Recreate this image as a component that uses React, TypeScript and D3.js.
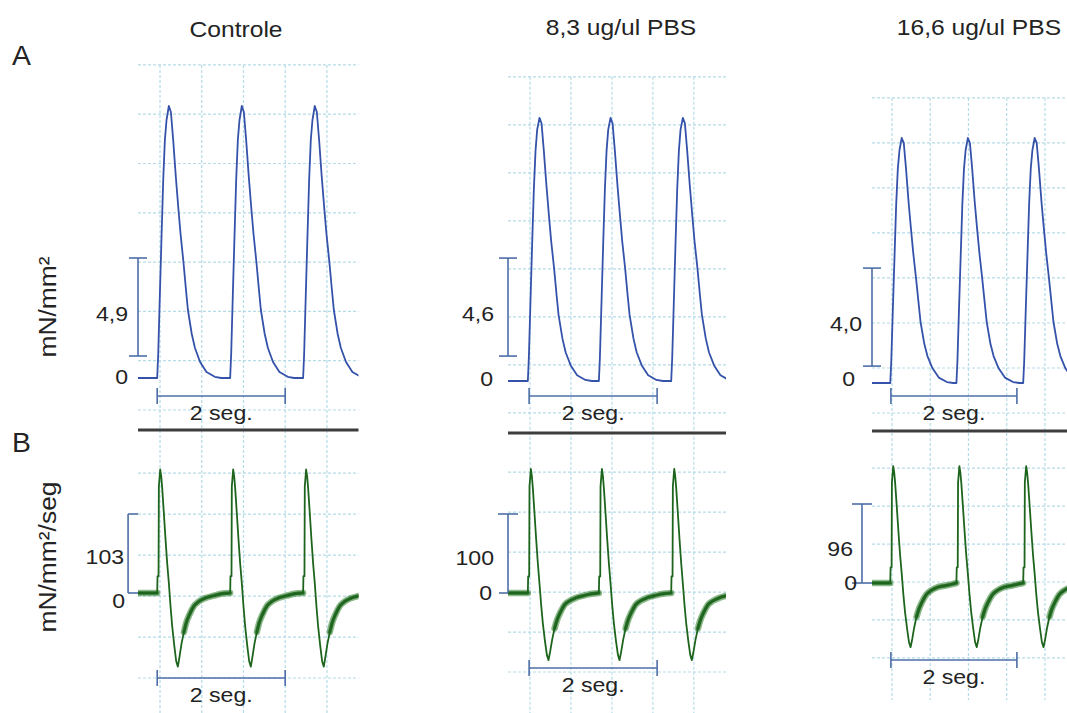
import React from "react";
import * as d3 from "d3";

// Conditions and scale-bar values
const conditions = ["Controle", "8,3 ug/ul PBS", "16,6 ug/ul PBS"];
const forceBarValues = [4.9, 4.6, 4.0]; // mN/mm²
const dfdtBarValues = [103, 100, 96]; // mN/mm²/seg
const timeBarSeconds = 2;
const timeBarLabel = "2 seg.";

// Beat onsets (s) for each condition
const beatOnsets = [
  [0.3, 1.44, 2.58],
  [0.31, 1.42, 2.55],
  [0.29, 1.34, 2.4],
];

// Isometric force during one beat (time after onset, s; force, mN/mm²)
const forceBeatTime = [0, 0.016, 0.042, 0.068, 0.094, 0.12, 0.146, 0.182, 0.214, 0.25, 0.29, 0.33, 0.365, 0.41, 0.45, 0.48, 0.54, 0.59, 0.67, 0.77, 0.9, 1.0];
const forceControle = [0, 1.2, 4.2, 7.1, 9.9, 11.9, 12.9, 13.6, 13.3, 11.9, 10.1, 8.5, 7.2, 5.8, 4.4, 3.4, 2.2, 1.5, 0.8, 0.3, 0.06, 0];
const force83 = [0, 1.1, 3.8, 6.5, 9.0, 10.8, 11.8, 12.35, 12.1, 10.8, 9.2, 7.75, 6.55, 5.3, 4.0, 3.1, 2.0, 1.35, 0.73, 0.27, 0.05, 0];
const force166 = [0, 0.9, 3.1, 5.2, 7.3, 8.75, 9.5, 10.0, 9.8, 8.75, 7.4, 6.25, 5.3, 4.25, 3.25, 2.5, 1.6, 1.1, 0.6, 0.22, 0.04, 0];

// Rate of force development during one beat (time after onset, s; dF/dt, mN/mm²/seg)
const dfdtBeatTime = [0, 0.005, 0.021, 0.026, 0.047, 0.063, 0.078, 0.104, 0.13, 0.156, 0.182, 0.208, 0.234, 0.266, 0.297, 0.323, 0.349, 0.38, 0.417, 0.453, 0.505, 0.573, 0.651, 0.755, 0.885, 1.0];
const dfdtControle = [0, 22, 22, 139, 161, 152, 137, 104, 70, 39, 13, -17, -43, -68, -89, -96, -83, -66, -51, -39, -28, -17, -11, -6.5, -3.5, -1];
const dfdt83 = [0, 21, 21, 135, 157, 148, 133, 101, 68, 38, 12, -15, -38, -60, -78, -85, -74, -59, -45, -35, -25, -15, -10, -6, -3, -1];
const dfdt166 = [0, 19, 19, 122, 142, 134, 121, 92, 62, 34, 11, -14, -35, -55, -72, -78, -68, -54, -41, -32, -23, -14, -9, -5, -3, -1];

const forceSeries = [forceControle, force83, force166];
const dfdtSeries = [dfdtControle, dfdt83, dfdt166];

// Page layout for each recording column
const layouts = [
  {
    x0: 138, pxPerSec: 64, tEnd: 3.44, clipRight: 358.5,
    forceZeroY: 378, dfdtZeroY: 593, forceBarBase: 1.1, timeBarStart: 0.3,
    topTimeBarY: 396, bottomTimeBarY: 678, dividerY: 430,
    dfdtBarT: -0.155, dfdtTopCap: [0, 10], dfdtBottomCap: [0, 10],
    forceLabelDx: -10, zeroLabelDx: -10, zeroLabelDy: 6,
    dfdtLabelDx: -4, dfdtLabelDy: 10, dfdtZeroDx: -3, dfdtZeroDy: 15,
    gridT: [0.344, 0.652, 5], gridF: [-1.6, 2.465, 8], gridD: [-110.8, 53.4, 6], gridBottom: 713,
    titleX: 236, titleY: 37,
  },
  {
    x0: 508, pxPerSec: 64, tEnd: 3.39, clipRight: 726,
    forceZeroY: 381, dfdtZeroY: 593, forceBarBase: 1.17, timeBarStart: 0.33,
    topTimeBarY: 396, bottomTimeBarY: 668, dividerY: 433,
    dfdtBarT: 0.0, dfdtTopCap: [-10, 10], dfdtBottomCap: [-9, 0],
    forceLabelDx: -14, zeroLabelDx: -15, zeroLabelDy: 5,
    dfdtLabelDx: -14, dfdtLabelDy: 11, dfdtZeroDx: -16, dfdtZeroDy: 7,
    gridT: [0.344, 0.64, 5], gridF: [-1.5, 2.254, 8], gridD: [-100, 50.6, 6], gridBottom: 713,
    titleX: 621, titleY: 35,
  },
  {
    x0: 872, pxPerSec: 63, tEnd: 3.1, clipRight: 1067,
    forceZeroY: 383, dfdtZeroY: 583, forceBarBase: 0.69, timeBarStart: 0.3,
    topTimeBarY: 396, bottomTimeBarY: 660, dividerY: 431,
    dfdtBarT: -0.159, dfdtTopCap: [-10, 10], dfdtBottomCap: [-10, 10],
    forceLabelDx: -10, zeroLabelDx: -17, zeroLabelDy: 3,
    dfdtLabelDx: -9, dfdtLabelDy: 12, dfdtZeroDx: -5, dfdtZeroDy: 7,
    gridT: [0.317, 0.607, 5], gridF: [-1.224, 1.837, 8], gridD: [-91, 46.1, 6], gridBottom: 700,
    titleX: 979, titleY: 35,
  },
];

const FORCE_BAR_PX = 98;
const DFDT_BAR_PX = 79;
const REST_FROM = 0.41;

const FONT = "'Liberation Sans', Arial, sans-serif";
const TEXT_COLOR = "#232323";
const BAR_COLOR = "#4d6ea8";
const GRID_COLOR = "#b5dce8";
const FORCE_COLOR = "#3552aa";
const DFDT_COLOR = "#1d641d";
const NOISE_COLOR = "#2f7f2c";

type Pt = { t: number; v: number; rest: boolean };

function buildTrace(onsets: number[], beatTime: number[], beatValues: number[]): Pt[] {
  const pts: Pt[] = [{ t: 0, v: 0, rest: true }];
  onsets.forEach((on) => {
    beatTime.forEach((bt, i) => {
      pts.push({ t: on + bt, v: beatValues[i], rest: bt === 0 || bt >= REST_FROM });
    });
  });
  return pts;
}

function Label({ x, y, children, anchor = "start", size = 22, sx = 1.1, fill = TEXT_COLOR }: any) {
  return (
    <g transform={`translate(${x},${y}) scale(${sx},1)`}>
      <text x={0} y={0} textAnchor={anchor} fontSize={size} fontFamily={FONT} fill={fill}>
        {children}
      </text>
    </g>
  );
}

function Column({ idx }: { idx: number }) {
  const L = layouts[idx];
  const x = d3.scaleLinear().domain([0, L.tEnd]).range([L.x0, L.x0 + L.pxPerSec * L.tEnd]);
  const fy = d3.scaleLinear().domain([0, forceBarValues[idx]]).range([L.forceZeroY, L.forceZeroY - FORCE_BAR_PX]);
  const dy = d3.scaleLinear().domain([0, dfdtBarValues[idx]]).range([L.dfdtZeroY, L.dfdtZeroY - DFDT_BAR_PX]);

  const forcePts = buildTrace(beatOnsets[idx], forceBeatTime, forceSeries[idx]);
  const dfdtPts = buildTrace(beatOnsets[idx], dfdtBeatTime, dfdtSeries[idx]);

  const forceLine = d3.line<Pt>().x((d) => x(d.t)).y((d) => fy(d.v)).curve(d3.curveLinear);
  const dfdtLine = d3.line<Pt>().x((d) => x(d.t)).y((d) => dy(d.v)).curve(d3.curveLinear);
  const noiseLine = d3.line<Pt>().defined((d) => d.rest).x((d) => x(d.t)).y((d) => dy(d.v)).curve(d3.curveMonotoneX);

  const left = L.x0;
  const right = L.clipRight;

  const gridTs = d3.range(L.gridT[2]).map((k) => L.gridT[0] + k * L.gridT[1]);
  const gridFs = d3.range(L.gridF[2]).map((k) => L.gridF[0] + k * L.gridF[1]);
  const gridDs = d3.range(L.gridD[2]).map((k) => L.gridD[0] + k * L.gridD[1]);
  const gridTopY = fy(d3.max(gridFs) as number);

  const clipId = `clip-${idx}`;
  const fBarX = x(0);
  const fBarY0 = fy(L.forceBarBase);
  const fBarY1 = fy(L.forceBarBase + forceBarValues[idx]);
  const dBarX = x(L.dfdtBarT);
  const dBarY0 = dy(0);
  const dBarY1 = dy(dfdtBarValues[idx]);
  const tb0 = x(L.timeBarStart);
  const tb1 = x(L.timeBarStart + timeBarSeconds);

  const timeBar = (yy: number) => (
    <g stroke={BAR_COLOR} strokeWidth={1.6}>
      <line x1={tb0} x2={tb1} y1={yy} y2={yy} />
      <line x1={tb0} x2={tb0} y1={yy - 8} y2={yy + 8} />
      <line x1={tb1} x2={tb1} y1={yy - 8} y2={yy + 8} />
    </g>
  );

  return (
    <g>
      <defs>
        <clipPath id={clipId}>
          <rect x={left} y={0} width={right - left} height={713} />
        </clipPath>
      </defs>

      {/* chart-paper grid */}
      <g stroke={GRID_COLOR} strokeWidth={1.2} strokeDasharray="3 2" fill="none">
        {gridTs.map((t, i) => (
          <line key={`v${i}`} x1={x(t)} x2={x(t)} y1={gridTopY} y2={L.gridBottom} />
        ))}
        {gridFs.map((v, i) => (
          <line key={`f${i}`} x1={left} x2={right} y1={fy(v)} y2={fy(v)} />
        ))}
        {gridDs.map((v, i) => (
          <line key={`d${i}`} x1={left} x2={right} y1={dy(v)} y2={dy(v)} />
        ))}
      </g>

      {/* title */}
      <Label x={L.titleX} y={L.titleY} anchor="middle" size={22} sx={1.12}>{conditions[idx]}</Label>

      {/* force trace */}
      <path d={forceLine(forcePts) || ""} fill="none" stroke={FORCE_COLOR} strokeWidth={1.8} strokeLinejoin="round" clipPath={`url(#${clipId})`} />

      {/* force scale bar */}
      <g stroke={BAR_COLOR} strokeWidth={1.6}>
        <line x1={fBarX} x2={fBarX} y1={fBarY0} y2={fBarY1} />
        <line x1={fBarX - 9} x2={fBarX + 9} y1={fBarY0} y2={fBarY0} />
        <line x1={fBarX - 9} x2={fBarX + 9} y1={fBarY1} y2={fBarY1} />
      </g>
      <Label x={fBarX + L.forceLabelDx} y={(fBarY0 + fBarY1) / 2 + 14} anchor="end" size={21}>
        {d3.format(".1f")(forceBarValues[idx]).replace(".", ",")}
      </Label>
      <Label x={fBarX + L.zeroLabelDx} y={fy(0) + L.zeroLabelDy} anchor="end" size={21}>0</Label>
      {timeBar(L.topTimeBarY)}
      <Label x={(tb0 + tb1) / 2} y={L.topTimeBarY + 24} anchor="middle" size={21}>{timeBarLabel}</Label>

      {/* divider between panels */}
      <line x1={left} x2={right} y1={L.dividerY} y2={L.dividerY} stroke="#3d3d3d" strokeWidth={3} />

      {/* dF/dt trace with its baseline noise band */}
      <g clipPath={`url(#${clipId})`}>
        <path d={noiseLine(dfdtPts) || ""} fill="none" stroke={NOISE_COLOR} strokeWidth={6.5} strokeOpacity={0.55} strokeLinecap="round" />
        <path d={noiseLine(dfdtPts) || ""} fill="none" stroke={DFDT_COLOR} strokeWidth={3.5} strokeOpacity={0.85} strokeLinecap="round" />
        <path d={dfdtLine(dfdtPts) || ""} fill="none" stroke={DFDT_COLOR} strokeWidth={1.8} strokeLinejoin="round" />
      </g>

      {/* dF/dt scale bar */}
      <g stroke={BAR_COLOR} strokeWidth={1.6}>
        <line x1={dBarX} x2={dBarX} y1={dBarY0} y2={dBarY1} />
        <line x1={dBarX + L.dfdtTopCap[0]} x2={dBarX + L.dfdtTopCap[1]} y1={dBarY1} y2={dBarY1} />
        <line x1={dBarX + L.dfdtBottomCap[0]} x2={dBarX + L.dfdtBottomCap[1]} y1={dBarY0} y2={dBarY0} />
      </g>
      <Label x={dBarX + L.dfdtLabelDx} y={(dBarY0 + dBarY1) / 2 + L.dfdtLabelDy} anchor="end" size={21}>
        {String(dfdtBarValues[idx])}
      </Label>
      <Label x={dBarX + L.dfdtZeroDx} y={dy(0) + L.dfdtZeroDy} anchor="end" size={21}>0</Label>
      {timeBar(L.bottomTimeBarY)}
      <Label x={(tb0 + tb1) / 2} y={L.bottomTimeBarY + 24} anchor="middle" size={21}>{timeBarLabel}</Label>
    </g>
  );
}

export default function App() {
  return (
    <svg
      width={1067}
      height={713}
      viewBox="0 0 1067 713"
      style={{ position: "absolute", left: 0, top: 0, background: "#fff" }}
    >
      <rect x={0} y={0} width={1067} height={713} fill="#fff" />
      {layouts.map((_, i) => (
        <Column key={i} idx={i} />
      ))}
      <Label x={12} y={65} size={27} sx={1.05}>A</Label>
      <Label x={12} y={452} size={27} sx={1.05}>B</Label>
      <g transform="translate(56,307) rotate(-90) scale(1.1,1)">
        <text textAnchor="middle" fontSize={24} fontFamily={FONT} fill={TEXT_COLOR}>
          mN/mm²
        </text>
      </g>
      <g transform="translate(56,557) rotate(-90) scale(1.1,1)">
        <text textAnchor="middle" fontSize={24} fontFamily={FONT} fill={TEXT_COLOR}>
          mN/mm²/seg
        </text>
      </g>
    </svg>
  );
}
